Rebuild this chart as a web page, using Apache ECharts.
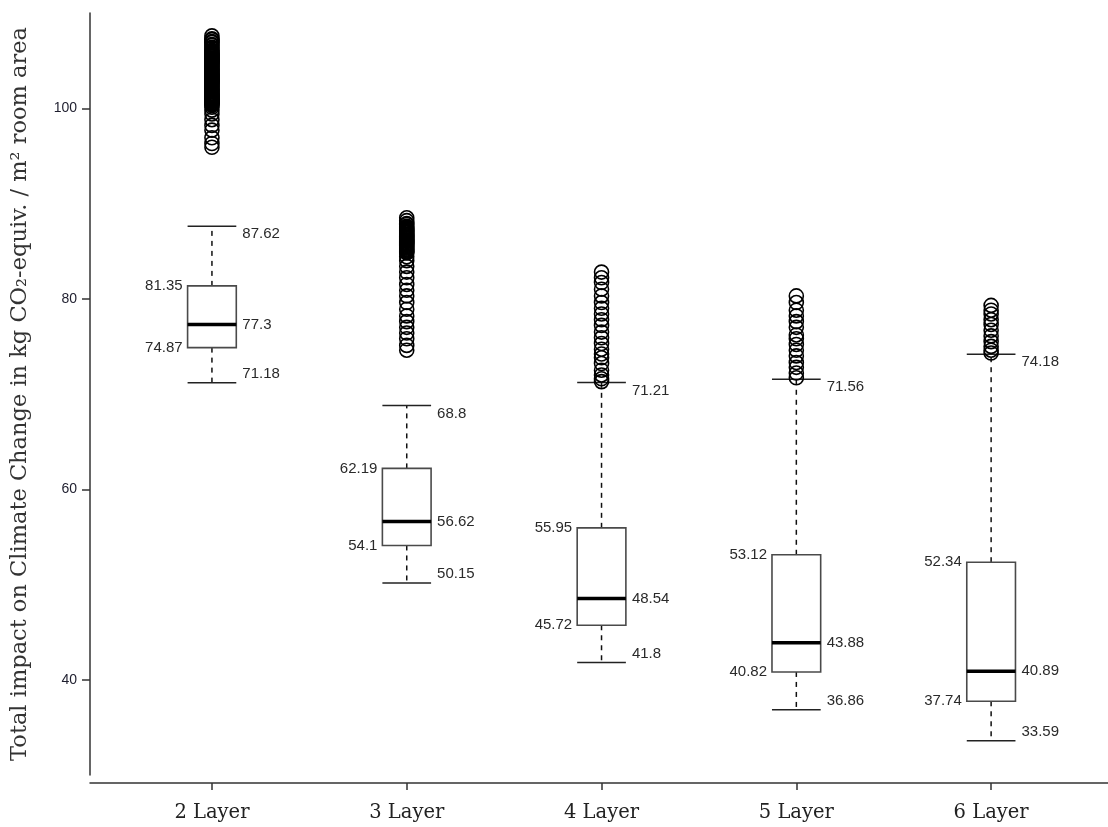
<!DOCTYPE html>
<html>
<head>
<meta charset="utf-8">
<script src="https://cdn.jsdelivr.net/npm/echarts@6/dist/echarts.min.js"></script>
<style>
  html, body { margin: 0; padding: 0; background: #fff; }
  #chart { width: 1108px; height: 827px; }
</style>
</head>
<body>
<div id="chart"></div>
<script>
// Box statistics per configuration
const categories = ['2 Layer', '3 Layer', '4 Layer', '5 Layer', '6 Layer'];
const whiskerLow = [71.18, 50.15, 41.8, 36.86, 33.59];
const quartile1 = [74.87, 54.1, 45.72, 40.82, 37.74];
const medians = [77.3, 56.62, 48.54, 43.88, 40.89];
const quartile3 = [81.35, 62.19, 55.95, 53.12, 52.34];
const whiskerHigh = [87.62, 68.8, 71.21, 71.56, 74.18];
const yTicks = [40, 60, 80, 100];

// Outliers above the upper whisker
const outliers2 = [95.9, 96.3, 96.9, 97.7, 98.2, 98.8, 99.4, 99.8, 100.1,
  100.3, 100.4, 100.5, 100.6, 100.7, 100.8, 100.9, 101.0, 101.1, 101.2, 101.3,
  101.4, 101.5, 101.6, 101.7, 101.8, 101.9, 102.0, 102.1, 102.2, 102.3, 102.4,
  102.5, 102.6, 102.7, 102.8, 102.9, 103.0, 103.1, 103.2, 103.3, 103.4, 103.5,
  103.6, 103.7, 103.8, 103.9, 104.0, 104.1, 104.2, 104.3, 104.4, 104.5, 104.6,
  104.7, 104.8, 104.9, 105.0, 105.1, 105.2, 105.3, 105.4, 105.5, 105.6, 105.7,
  105.8, 105.9, 106.0, 106.1, 106.3, 106.4, 106.6, 106.7, 106.9, 107.0, 107.2,
  107.3, 107.6];
const outliers3 = [74.6, 75.1, 75.8, 76.4, 77.0, 77.6, 78.2, 78.9, 79.6, 80.3,
  80.9, 81.5, 82.2, 82.8, 83.4, 84.0, 84.4, 84.8, 84.9, 85.0, 85.1, 85.2, 85.3,
  85.4, 85.5, 85.6, 85.7, 85.8, 85.9, 86.0, 86.1, 86.2, 86.3, 86.4, 86.5, 86.6,
  86.7, 86.8, 86.9, 87.0, 87.1, 87.2, 87.3, 87.4, 87.5, 87.6, 87.8, 87.9, 88.2, 88.5];
const outliers4 = [71.3, 71.6, 72.0, 72.5, 73.2, 73.8, 74.2, 74.7, 75.3, 75.9,
  76.5, 77.2, 77.8, 78.4, 79.0, 79.6, 80.3, 81.0, 81.7, 82.2, 82.8];
const outliers5 = [71.7, 72.2, 72.8, 73.3, 74.0, 74.6, 75.2, 75.8, 76.2, 77.0,
  77.6, 78.2, 78.8, 79.6, 80.3];
const outliers6 = [74.3, 74.6, 75.0, 75.5, 76.1, 76.7, 77.3, 77.8, 78.4, 78.8, 79.3];
const outlierGroups = [outliers2, outliers3, outliers4, outliers5, outliers6];

const boxData = categories.map((c, i) => [i + 1, whiskerLow[i], quartile1[i], medians[i], quartile3[i], whiskerHigh[i]]);
const outlierData = [];
outlierGroups.forEach((g, i) => g.forEach(v => outlierData.push([i + 1, v])));

const labelFont = '15px "Liberation Sans", Arial, sans-serif';
const labelColor = '#2a2a2a';

function renderBox(params, api) {
  const x = api.value(0);
  const lo = api.value(1), q1 = api.value(2), med = api.value(3), q3 = api.value(4), hi = api.value(5);
  const cx = api.coord([x, med])[0];
  const yLo = api.coord([x, lo])[1];
  const yQ1 = api.coord([x, q1])[1];
  const yMed = api.coord([x, med])[1];
  const yQ3 = api.coord([x, q3])[1];
  const yHi = api.coord([x, hi])[1];
  const half = api.size([0.25, 0])[0] / 2;
  const dash = { stroke: '#111', lineWidth: 1.5, lineDash: [5, 5] };
  const solid = { stroke: '#222', lineWidth: 1.5 };
  const txt = (t, px, py, align) => ({
    type: 'text',
    style: { text: t, x: px, y: py, fill: labelColor, font: labelFont, align: align, verticalAlign: 'middle' }
  });
  return {
    type: 'group',
    children: [
      { type: 'line', shape: { x1: cx, y1: yQ3, x2: cx, y2: yHi }, style: dash },
      { type: 'line', shape: { x1: cx, y1: yQ1, x2: cx, y2: yLo }, style: dash },
      { type: 'line', shape: { x1: cx - half, y1: yHi, x2: cx + half, y2: yHi }, style: solid },
      { type: 'line', shape: { x1: cx - half, y1: yLo, x2: cx + half, y2: yLo }, style: solid },
      { type: 'rect', shape: { x: cx - half, y: yQ3, width: 2 * half, height: yQ1 - yQ3 },
        style: { fill: '#fff', stroke: '#4a4a4a', lineWidth: 1.6 } },
      { type: 'line', shape: { x1: cx - half, y1: yMed, x2: cx + half, y2: yMed },
        style: { stroke: '#000', lineWidth: 3.5 } },
      txt(String(hi), cx + half + 6, yHi + 8, 'left'),
      txt(String(med), cx + half + 6, yMed, 'left'),
      txt(String(lo), cx + half + 6, yLo - 9, 'left'),
      txt(String(q3), cx - half - 5, yQ3, 'right'),
      txt(String(q1), cx - half - 5, yQ1, 'right')
    ]
  };
}

const chart = echarts.init(document.getElementById('chart'), null, { renderer: 'canvas' });
chart.setOption({
  backgroundColor: '#fff',
  animation: false,
  grid: { left: 90, top: 13, width: 1019, height: 762 },
  xAxis: {
    type: 'value',
    min: 0.374,
    max: 5.6,
    offset: 8,
    splitLine: { show: false },
    axisLine: { show: true, lineStyle: { color: '#333', width: 1.5 } },
    axisTick: { show: true, length: 7, customValues: [1, 2, 3, 4, 5], lineStyle: { color: '#333', width: 1.5 } },
    axisLabel: {
      customValues: [1, 2, 3, 4, 5],
      formatter: v => categories[Math.round(v) - 1] || '',
      margin: 20,
      color: '#222',
      fontFamily: '"DejaVu Serif", serif',
      fontSize: 19.5
    }
  },
  yAxis: {
    type: 'value',
    min: 30,
    max: 110,
    splitLine: { show: false },
    name: 'Total impact on Climate Change in kg CO\u2082-equiv. / m\u00B2 room area',
    nameLocation: 'middle',
    nameGap: 58,
    nameTextStyle: { fontFamily: '"DejaVu Serif", serif', fontSize: 22.5, color: '#333' },
    axisLine: { show: true, lineStyle: { color: '#333', width: 1.5 } },
    axisTick: { show: true, length: 8, customValues: yTicks, lineStyle: { color: '#333', width: 1.5 } },
    axisLabel: {
      customValues: yTicks,
      margin: 13,
      color: '#1e1e2e',
      fontFamily: '"Liberation Sans", Arial, sans-serif',
      fontSize: 14
    }
  },
  series: [
    {
      type: 'custom',
      renderItem: renderBox,
      data: boxData,
      encode: { x: 0, y: [1, 2, 3, 4, 5] },
      z: 2
    },
    {
      type: 'scatter',
      data: outlierData,
      symbol: 'circle',
      symbolSize: 14,
      itemStyle: { color: 'rgba(0,0,0,0)', borderColor: '#000', borderWidth: 1.6, opacity: 1 },
      z: 3
    }
  ]
});
</script>
</body>
</html>
